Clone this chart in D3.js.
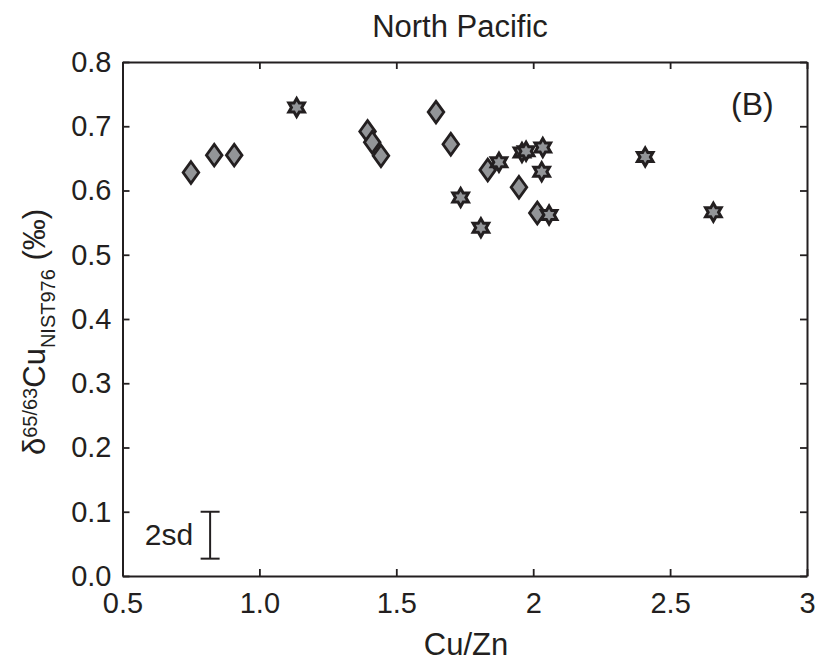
<!DOCTYPE html>
<html>
<head>
<meta charset="utf-8">
<script src="https://cdn.jsdelivr.net/npm/d3@7/dist/d3.min.js"></script>
<style>
  html, body { margin: 0; padding: 0; background: #fff; }
  svg { display: block; font-family: "Liberation Sans", Arial, sans-serif; }
</style>
</head>
<body>
<svg id="chart" width="820" height="661"></svg>
<script>
// ---- data ----
const diamondX = [0.75, 0.835, 0.908, 1.395, 1.412, 1.444, 1.645, 1.699, 1.834, 1.948, 2.015];
const diamondY = [0.628, 0.655, 0.655, 0.692, 0.675, 0.654, 0.722, 0.672, 0.632, 0.605, 0.565];
const starX = [1.136, 1.735, 1.809, 1.875, 1.959, 1.974, 2.035, 2.031, 2.058, 2.409, 2.658];
const starY = [0.729, 0.589, 0.542, 0.644, 0.659, 0.661, 0.667, 0.629, 0.562, 0.652, 0.566];
const xTicks = [0.5, 1.0, 1.5, 2, 2.5, 3];
const xTickLabels = ["0.5", "1.0", "1.5", "2", "2.5", "3"];
const yTicks = [0, 0.1, 0.2, 0.3, 0.4, 0.5, 0.6, 0.7, 0.8];
const yTickLabels = ["0.0", "0.1", "0.2", "0.3", "0.4", "0.5", "0.6", "0.7", "0.8"];
const errBarX = [0.82];
const errBarRange = [0.027, 0.10];
const titleText = "North Pacific";
const xLabelText = "Cu/Zn";
const panelText = "(B)";
const errLabelText = "2sd";

// ---- layout ----
const ink = "#231f20";
const fillGrey = "#939598";
const svg = d3.select("#chart");
const x = d3.scaleLinear().domain([0.5, 3]).range([122.5, 807]);
const y = d3.scaleLinear().domain([0, 0.8]).range([576, 62]);

function styleAxis(g) {
  g.selectAll(".domain").attr("stroke", ink).attr("stroke-width", 2);
  g.selectAll(".tick line").attr("stroke", ink).attr("stroke-width", 1.8);
  g.selectAll(".tick text").attr("fill", ink).attr("font-size", 29)
    .attr("font-family", "'Liberation Sans', Arial, sans-serif");
}

svg.append("g").attr("transform", `translate(0,${y(0)})`)
  .call(d3.axisBottom(x).tickValues(xTicks).tickFormat((d, i) => xTickLabels[i])
    .tickSizeInner(-7).tickSizeOuter(0).tickPadding(16))
  .call(styleAxis);
svg.append("g").attr("transform", `translate(0,${y(0.8)})`)
  .call(d3.axisTop(x).tickValues(xTicks).tickFormat("")
    .tickSizeInner(-7).tickSizeOuter(0))
  .call(styleAxis);
svg.append("g").attr("transform", `translate(${x(0.5)},0)`)
  .call(d3.axisLeft(y).tickValues(yTicks).tickFormat((d, i) => yTickLabels[i])
    .tickSizeInner(-7).tickSizeOuter(0).tickPadding(11))
  .call(styleAxis);
svg.append("g").attr("transform", `translate(${x(3)},0)`)
  .call(d3.axisRight(y).tickValues(yTicks).tickFormat("")
    .tickSizeInner(-7).tickSizeOuter(0))
  .call(styleAxis);

// ---- markers ----
const diamondPath = (() => {
  const w = 7.8, h = 10.8;
  return `M0,${-h}L${w},0L0,${h}L${-w},0Z`;
})();
const starPath = (() => {
  const R = 9.0, r = R * 0.577;
  let p = "";
  for (let k = 0; k < 12; k++) {
    const rad = k % 2 === 0 ? R : r;
    const a = -Math.PI / 2 + k * Math.PI / 6;
    p += (k === 0 ? "M" : "L") + (rad * Math.cos(a)).toFixed(2) + "," + (rad * Math.sin(a)).toFixed(2);
  }
  return p + "Z";
})();

svg.append("g").selectAll("path")
  .data(diamondX.map((d, i) => [d, diamondY[i]]))
  .join("path")
  .attr("d", diamondPath)
  .attr("transform", d => `translate(${x(d[0])},${y(d[1])})`)
  .attr("fill", fillGrey).attr("stroke", ink).attr("stroke-width", 2.8)
  .attr("stroke-linejoin", "miter");

svg.append("g").selectAll("path")
  .data(starX.map((d, i) => [d, starY[i]]))
  .join("path")
  .attr("d", starPath)
  .attr("transform", d => `translate(${x(d[0])},${y(d[1])})`)
  .attr("fill", fillGrey).attr("stroke", ink).attr("stroke-width", 3)
  .attr("stroke-linejoin", "miter");

// ---- 2sd error bar ----
const eb = svg.append("g").attr("stroke", ink).attr("stroke-width", 2);
errBarX.forEach(ex => {
  const cx = x(ex);
  eb.append("line").attr("x1", cx).attr("x2", cx).attr("y1", y(errBarRange[0])).attr("y2", y(errBarRange[1]));
  eb.append("line").attr("x1", cx - 9.5).attr("x2", cx + 9.5).attr("y1", y(errBarRange[0])).attr("y2", y(errBarRange[0]));
  eb.append("line").attr("x1", cx - 9.5).attr("x2", cx + 9.5).attr("y1", y(errBarRange[1])).attr("y2", y(errBarRange[1]));
  svg.append("text").attr("x", cx - 17).attr("y", 545).attr("text-anchor", "end")
    .attr("font-size", 30).attr("fill", ink).text(errLabelText);
});

// ---- texts ----
svg.append("text").attr("x", 460).attr("y", 36.5).attr("text-anchor", "middle")
  .attr("font-size", 31).attr("fill", ink).text(titleText);
svg.append("text").attr("x", 466).attr("y", 655).attr("text-anchor", "middle")
  .attr("font-size", 31).attr("fill", ink).text(xLabelText);
svg.append("text").attr("x", 731).attr("y", 115)
  .attr("font-size", 32).attr("fill", ink).text(panelText);

const yl = svg.append("text").attr("transform", "translate(45,332) rotate(-90)")
  .attr("text-anchor", "middle").attr("fill", ink).attr("font-size", 31);
yl.append("tspan").text("δ");
yl.append("tspan").attr("font-size", 20).attr("dy", -8.5).text("65/63");
yl.append("tspan").attr("dy", 8.5).text("Cu");
yl.append("tspan").attr("font-size", 20).attr("dy", 10).text("NIST976");
yl.append("tspan").attr("dy", -10).text("\u00a0(‰)");
</script>
</body>
</html>
